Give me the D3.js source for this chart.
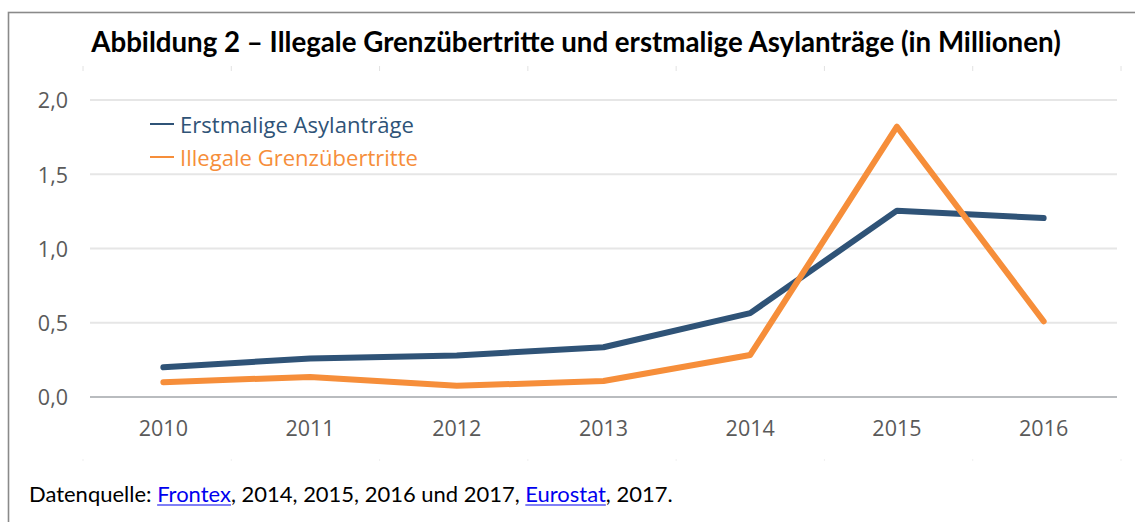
<!DOCTYPE html>
<html><head><meta charset="utf-8">
<script src="https://cdn.jsdelivr.net/npm/d3@7"></script>
<style>body{margin:0;background:#fff}svg{display:block}</style>
</head><body>
<svg id="c" width="1135" height="522"></svg>
<script>
const years = ["2010","2011","2012","2013","2014","2015","2016"];
const asylum = [0.20, 0.26, 0.28, 0.335, 0.565, 1.255, 1.205];
const crossings = [0.10, 0.135, 0.075, 0.108, 0.283, 1.82, 0.51];
const yTicks = [0, 0.5, 1.0, 1.5, 2.0];
const seriesNames = ["Erstmalige Asylanträge", "Illegale Grenzübertritte"];
const seriesColors = ["#2f5377", "#f68e3a"];
const titleText = "Abbildung 2 – Illegale Grenzübertritte und erstmalige Asylanträge (in Millionen)";
const sourceParts = [["Datenquelle: ",false],["Frontex",true],[", 2014, 2015, 2016 und 2017, ",false],["Eurostat",true],[", 2017.",false]];

const svg = d3.select("#c");
const x = d3.scaleBand().domain(years).range([90,1117]).padding(0);
const y = d3.scaleLinear().domain([0,2]).range([397,100]);
const cx = d => x(d) + x.bandwidth()/2;

// frame
svg.append("rect").attr("x",8.5).attr("y",12.5).attr("width",1140).attr("height",530)
  .attr("fill","none").attr("stroke","#8a8a8a").attr("stroke-width",1.6);

function fitText(sel, target, base){
  sel.attr("font-size", base);
  const w = sel.node().getComputedTextLength();
  sel.attr("font-size", base*target/w);
}
// title
const title = svg.append("text").attr("x",576).attr("y",52).attr("text-anchor","middle")
  .attr("font-family","Lato, 'Open Sans', sans-serif").attr("font-weight","bold").attr("fill","#000").text(titleText);
fitText(title, 970, 24);

// faint decoration ticks
const deco = d3.scalePoint().domain(d3.range(8)).range([83,1121]);
svg.append("g").selectAll("line").data(d3.range(8)).join("line")
  .attr("x1",d=>deco(d)).attr("x2",d=>deco(d)).attr("y1",66).attr("y2",71)
  .attr("stroke","#e2e2e2").attr("stroke-width",1);
svg.append("g").selectAll("rect").data(d3.range(8)).join("rect")
  .attr("x",d=>deco(d)-0.5).attr("y",459.5).attr("width",1).attr("height",1).attr("fill","#e0e0e0");

// gridlines
svg.append("g").selectAll("line").data(yTicks).join("line")
  .attr("x1",90).attr("x2",1117).attr("y1",d=>y(d)).attr("y2",d=>y(d))
  .attr("stroke",d=>d===0?"#b9bcbf":"#e6e6e6").attr("stroke-width",2.2);

// y axis
const yAxis = d3.axisLeft(y).tickValues(yTicks).tickSize(0).tickPadding(0)
  .tickFormat(d=>d3.format(".1f")(d).replace(".",","));
const gy = svg.append("g").attr("transform","translate(68,0)").call(yAxis);
gy.select(".domain").remove();
gy.selectAll("text").attr("font-family","'Open Sans', sans-serif").attr("font-size",21.5).attr("font-weight",500).attr("fill","#5a5a5a").attr("dy","0.36em");

// x axis
const xAxis = d3.axisBottom(x).tickSize(0).tickPadding(0);
const gx = svg.append("g").attr("transform","translate(0,421)").call(xAxis);
gx.select(".domain").remove();
gx.selectAll("text").attr("font-family","'Open Sans', sans-serif").attr("font-size",21.5).attr("font-weight",500).attr("fill","#5a5a5a").attr("dy","0.71em");

// lines
const line = d3.line().x((d,i)=>cx(years[i])).y(d=>y(d));
[asylum, crossings].forEach((s,i)=>{
  svg.append("path").datum(s).attr("d",line).attr("fill","none")
    .attr("stroke",seriesColors[i]).attr("stroke-width",6).attr("stroke-linecap","round").attr("stroke-linejoin","round");
});

// legend
const lg = svg.append("g");
seriesNames.forEach((n,i)=>{
  const yy = 125 + i*33;
  lg.append("line").attr("x1",150).attr("x2",174).attr("y1",yy-1).attr("y2",yy-1)
    .attr("stroke",seriesColors[i]).attr("stroke-width",2);
  lg.append("text").attr("x",180).attr("y",yy).attr("dy","0.36em")
    .attr("font-family","'Open Sans', sans-serif").attr("font-size",21).attr("font-weight",500)
    .attr("textLength", i===0?234:238).attr("lengthAdjust","spacingAndGlyphs")
    .attr("fill",seriesColors[i]).text(n);
});

// source line
const src = svg.append("g");
let fs = 20;
const tmp = src.append("text").attr("font-family","Lato, sans-serif").attr("font-size",fs).text(sourceParts.map(p=>p[0]).join(""));
const total = tmp.node().getComputedTextLength();
tmp.remove();
fs = fs*644/total;
let xx = 29;
sourceParts.forEach(([txt,link])=>{
  const t = src.append("text").attr("x",xx).attr("y",502).attr("font-family","Lato, sans-serif")
    .attr("font-size",fs).attr("fill",link?"#0000ee":"#000").style("white-space","pre").text(txt);
  const w = t.node().getComputedTextLength();
  if(link){
    src.append("line").attr("x1",xx).attr("x2",xx+w).attr("y1",505).attr("y2",505).attr("stroke","#0000ee").attr("stroke-width",1.2);
  }
  xx += w;
});
</script>
</body></html>
